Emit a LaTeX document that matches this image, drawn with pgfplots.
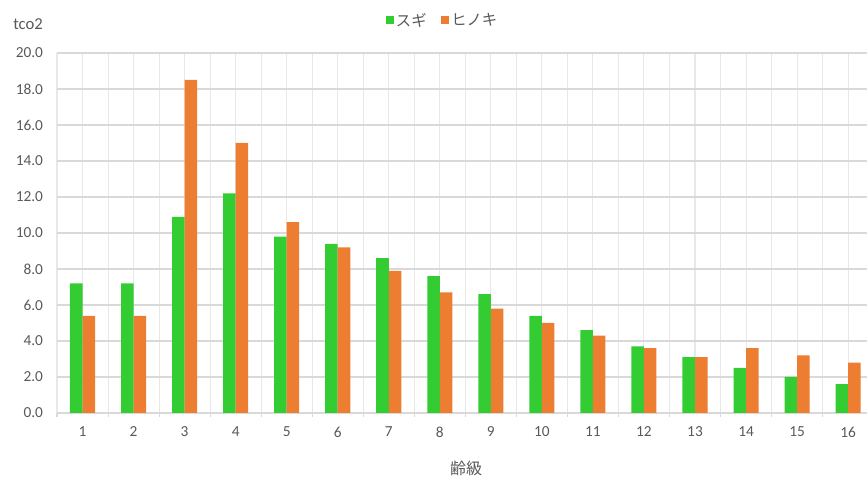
\documentclass[border=0pt]{standalone}
\usepackage{pgfplots}
\pgfplotsset{compat=1.18}
\usepackage{fontspec}
\setmainfont{Carlito}
\newfontfamily\jp{Noto Sans CJK JP}
\definecolor{sugi}{HTML}{33CC33}
\definecolor{hinoki}{HTML}{ED7D31}
\definecolor{txt}{HTML}{595959}
\definecolor{gridc}{HTML}{D9D9D9}
\definecolor{vgridc}{HTML}{E8E8E8}
\begin{document}
\begin{tikzpicture}
\begin{axis}[
  at={(0pt,0pt)}, anchor=south west,
  scale only axis, width=607.5pt, height=270pt,
  xmin=0.5, xmax=16.37, ymin=0, ymax=20,
  clip=true,
  ybar=0pt, bar width=9.4pt,
  axis x line*=bottom, axis y line*=left,
  x axis line style={draw=gridc, line width=1pt, -},
  y axis line style={draw=none},
  xtick={1,...,16},
  minor xtick={0.5,1.5,...,15.5},
  ytick={0,2,...,20},
  major tick length=0pt,
  minor tick length=3pt,
  minor tick style={draw=gridc, line width=0.8pt},
  tick align=outside,
  xmajorgrids, xminorgrids, ymajorgrids,
  major x grid style={draw=vgridc, line width=0.8pt},
  minor x grid style={draw=vgridc, line width=0.8pt},
  major y grid style={draw=gridc, line width=0.8pt},
  /pgf/number format/assume math mode=true,
  yticklabel style={/pgf/number format/fixed, /pgf/number format/fixed zerofill, /pgf/number format/precision=1, font=\fontsize{11.5}{13}\selectfont, text=txt, xshift=-7pt},
  xticklabel style={font=\fontsize{11.5}{13}\selectfont, text=txt, yshift=-7pt},
]
\addplot[fill=sugi, draw=none] coordinates {
(1,7.2) (2,7.2) (3,10.9) (4,12.2) (5,9.8) (6,9.4) (7,8.6) (8,7.6)
(9,6.6) (10,5.4) (11,4.6) (12,3.7) (13,3.1) (14,2.5) (15,2.0) (16,1.6)};
\addplot[fill=hinoki, draw=none] coordinates {
(1,5.4) (2,5.4) (3,18.5) (4,15.0) (5,10.6) (6,9.2) (7,7.9) (8,6.7)
(9,5.8) (10,5.0) (11,4.3) (12,3.6) (13,3.1) (14,3.6) (15,3.2) (16,2.8)};
\end{axis}
% legend
\fill[sugi] (246.75pt,291.75pt) rectangle (252.75pt,297.75pt);
\node[anchor=west, text=txt, inner sep=0pt, font=\jp\fontsize{11.5}{13}\selectfont] at (254pt,294.75pt) {スギ};
\fill[hinoki] (288pt,291.75pt) rectangle (294pt,297.75pt);
\node[anchor=west, text=txt, inner sep=0pt, font=\jp\fontsize{11.5}{13}\selectfont] at (295.5pt,294.75pt) {ヒノキ};
% y unit
\node[anchor=west, text=txt, inner sep=0pt, font=\fontsize{12.5}{14}\selectfont] at (-33pt,291.75pt) {tco2};
% x label
\node[text=txt, inner sep=0pt, font=\jp\fontsize{12}{14}\selectfont] at (306.75pt,-41.25pt) {齢級};
\pgfresetboundingbox
\useasboundingbox (-42.75pt,-48.75pt) rectangle (607.5pt,309.75pt);
\end{tikzpicture}
\end{document}
